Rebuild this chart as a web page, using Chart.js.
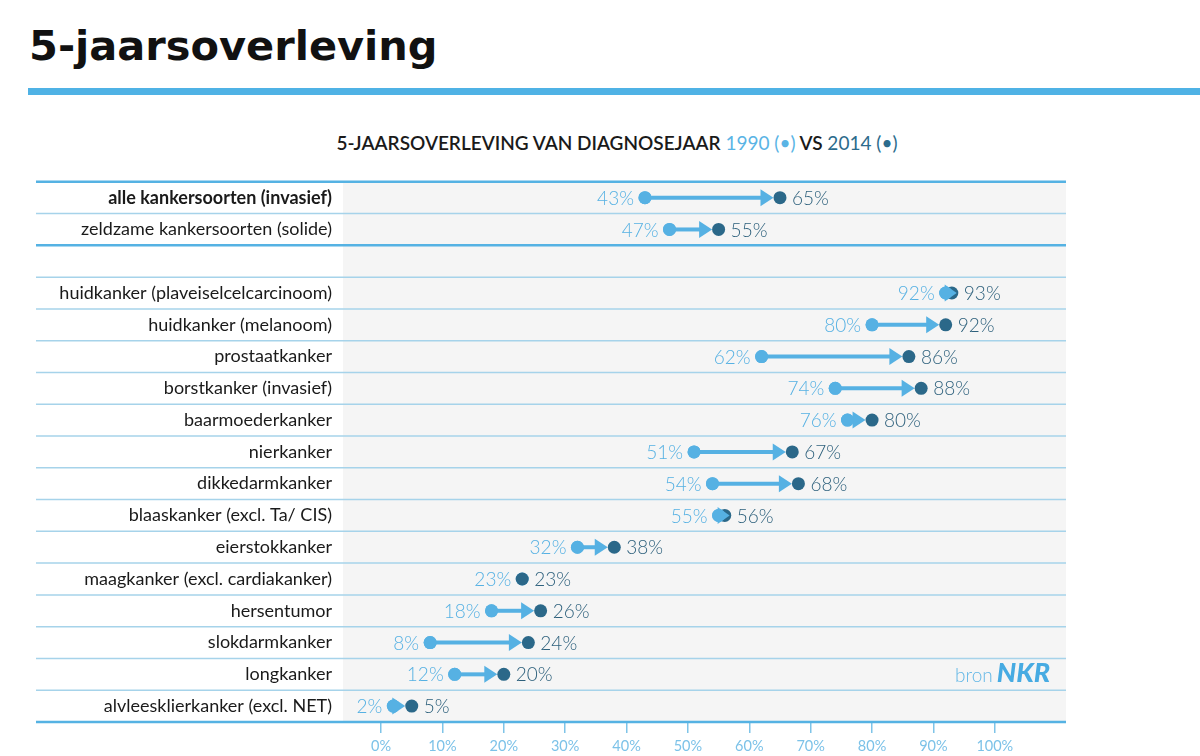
<!DOCTYPE html>
<html>
<head>
<meta charset="utf-8">
<script src="https://cdn.jsdelivr.net/npm/chart.js@4.4.1/dist/chart.umd.min.js"></script>
<style>
  body { margin: 0; width: 1200px; height: 756px; background: #fff; overflow: hidden; position: relative; font-family: Lato, sans-serif; }
  h1 { position: absolute; left: 29px; top: 21px; margin: 0; font: bold 41.5px "DejaVu Sans", sans-serif; color: #111; }
  #bar { position: absolute; left: 28px; right: 0; top: 88px; height: 7px; background: #4fb2e5; }
  #sub { position: absolute; left: 617px; top: 131px; transform: translateX(-50%); white-space: nowrap; font: 600 19px Lato, sans-serif; color: #1a1a1a; }
  #sub .c90 { color: #5ab4e5; font-weight: 400; }
  #sub .c14 { color: #2c6b8c; font-weight: 400; }
  #bron { position: absolute; left: 955px; top: 655px; white-space: nowrap; color: #62b7e6; font: 300 19px Lato, sans-serif; }
  #bron b { color: #47abe2; font: italic 900 27px Lato, sans-serif; margin-left: 4px; }
  #wrap { position: absolute; left: 0; top: 160px; width: 1200px; height: 596px; }
</style>
</head>
<body>
<h1>5-jaarsoverleving</h1>
<div id="bar"></div>
<div id="sub">5-JAARSOVERLEVING VAN DIAGNOSEJAAR <span class="c90">1990 (•)</span> VS <span class="c14">2014 (•)</span></div>
<div id="wrap"><canvas id="chart"></canvas></div>
<div id="bron">bron<b>NKR</b></div>
<script>
const rows = [
  'alle kankersoorten (invasief)',
  'zeldzame kankersoorten (solide)',
  '',
  'huidkanker (plaveiselcelcarcinoom)',
  'huidkanker (melanoom)',
  'prostaatkanker',
  'borstkanker (invasief)',
  'baarmoederkanker',
  'nierkanker',
  'dikkedarmkanker',
  'blaaskanker (excl. Ta/ CIS)',
  'eierstokkanker',
  'maagkanker (excl. cardiakanker)',
  'hersentumor',
  'slokdarmkanker',
  'longkanker',
  'alvleesklierkanker (excl. NET)',
];
const surv1990 = [43, 47, null, 92, 80, 62, 74, 76, 51, 54, 55, 32, 23, 18, 8, 12, 2];
const surv2014 = [65, 55, null, 93, 92, 86, 88, 80, 67, 68, 56, 38, 23, 26, 24, 20, 5];
const xTicks = [0, 10, 20, 30, 40, 50, 60, 70, 80, 90, 100];

const light = '#56b1e3';
const dark = '#2b6889';
const dotR = 6.5;

// y is given as the row label, so the category scale places it on its own row
function toPoints(values) {
  return values.map((v, i) => ({ x: v, y: rows[i] })).filter(p => p.x !== null);
}

// grey plot background, row lines, arrows and value labels
const tablePlugin = {
  id: 'table',
  beforeDraw(chart) {
    const { ctx, chartArea: a } = chart;
    ctx.save();
    ctx.fillStyle = '#f5f5f5';
    ctx.fillRect(a.left, a.top, a.right - a.left, a.bottom - a.top);
    ctx.restore();
  },
  beforeDatasetsDraw(chart) {
    const { ctx, chartArea: a, scales: { y } } = chart;
    const rowH = (a.bottom - a.top) / rows.length;
    ctx.save();
    for (let i = 0; i <= rows.length; i++) {
      const yy = i < rows.length ? y.getPixelForValue(i) - rowH / 2 : y.getPixelForValue(rows.length - 1) + rowH / 2;
      const thick = i === 0 || i === 2 || i === rows.length;
      ctx.strokeStyle = thick ? '#55b2e3' : '#a6d3ea';
      ctx.lineWidth = thick ? 2.5 : 1.5;
      ctx.beginPath();
      ctx.moveTo(36, yy);
      ctx.lineTo(a.right, yy);
      ctx.stroke();
    }
    ctx.restore();
  },
  afterDatasetsDraw(chart) {
    const { ctx, scales: { x, y } } = chart;
    ctx.save();
    surv1990.forEach((v1, i) => {
      const v2 = surv2014[i];
      if (v1 === null) return;
      const x1 = x.getPixelForValue(v1);
      const x2 = x.getPixelForValue(v2);
      const yy = y.getPixelForValue(i);
      if (v2 > v1) {
        // small gaps: keep the head just right of the 1990 dot
        const tip = Math.max(x2 - dotR, x1 + 11);
        const base = Math.max(tip - 13, x1 - 1);
        ctx.fillStyle = light;
        ctx.strokeStyle = light;
        if (base > x1) {
          ctx.lineWidth = 4;
          ctx.beginPath();
          ctx.moveTo(x1, yy);
          ctx.lineTo(base + 1, yy);
          ctx.stroke();
        }
        ctx.beginPath();
        ctx.moveTo(base, yy - 8.5);
        ctx.lineTo(tip, yy);
        ctx.lineTo(base, yy + 8.5);
        ctx.closePath();
        ctx.fill();
        ctx.beginPath();
        ctx.arc(x1, yy, dotR, 0, Math.PI * 2);
        ctx.fill();
      }
      ctx.font = '300 19px Lato, sans-serif';
      ctx.textBaseline = 'middle';
      ctx.fillStyle = light;
      ctx.textAlign = 'right';
      ctx.fillText(v1 + '%', x1 - 11, yy + 1);
      ctx.fillStyle = '#2d607c';
      ctx.textAlign = 'left';
      ctx.fillText(v2 + '%', x2 + 12, yy + 1);
    });
    ctx.restore();
  },
};

new Chart(document.getElementById('chart'), {
  type: 'scatter',
  plugins: [tablePlugin],
  data: {
    datasets: [
      {
        label: '1990',
        data: toPoints(surv1990),
        backgroundColor: light,
        borderWidth: 0,
        pointRadius: dotR,
        order: 2,
      },
      {
        label: '2014',
        data: toPoints(surv2014),
        backgroundColor: dark,
        borderWidth: 0,
        pointRadius: dotR,
        order: 1,
      },
    ]
  },
  options: {
    responsive: true,
    maintainAspectRatio: false,
    animation: false,
    events: [],
    layout: {
      padding: { top: 18, left: 36, right: 134, bottom: 0 }
    },
    scales: {
      x: {
        type: 'linear',
        min: -6.2,
        max: 111.6,
        afterBuildTicks: (scale) => { scale.ticks = xTicks.map(v => ({ value: v })); },
        afterFit: (scale) => { scale.height = 34; },
        border: { display: false },
        grid: {
          drawOnChartArea: false,
          tickLength: 11,
          color: '#7fc4e8',
          lineWidth: 1.5,
        },
        ticks: {
          padding: 5,
          color: '#7cc2e8',
          font: { family: 'Lato', size: 14.5 },
          callback: (v) => v + '%',
        },
      },
      y: {
        type: 'category',
        labels: rows,
        offset: true,
        afterFit: (scale) => { scale.width = 307; },
        border: { display: false },
        grid: { display: false, drawTicks: false },
        ticks: {
          autoSkip: false,
          padding: 11,
          color: '#1a1a1a',
          font: (ctx) => ({ family: 'Lato', size: 18, weight: ctx.index === 0 ? 'bold' : 'normal' }),
        },
      },
    },
    plugins: {
      legend: { display: false },
      tooltip: { enabled: false },
    },
  },
});
</script>
</body>
</html>
